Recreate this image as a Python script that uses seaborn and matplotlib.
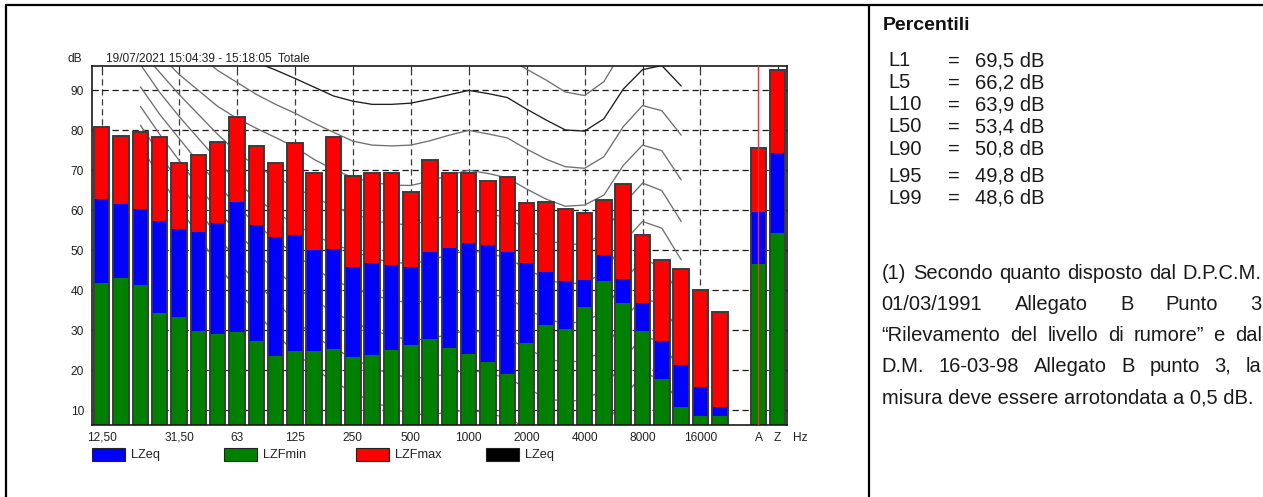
import numpy as np
import pandas as pd
import seaborn as sns
import matplotlib.pyplot as plt
from matplotlib.lines import Line2D
from matplotlib.patches import Rectangle

# %% dati spettro 1/3 ottava + A e Z
bands = ['12.5', '16', '20', '25', '31.5', '40', '50', '63', '80', '100', '125', '160',
         '200', '250', '315', '400', '500', '630', '800', '1000', '1250', '1600', '2000',
         '2500', '3150', '4000', '5000', '6300', '8000', '10000', '12500', '16000', '20000',
         'A', 'Z']

lzfmax = [80.8, 78.6, 79.5, 78.3, 71.8, 73.8, 77.1, 83.4, 76.2, 71.8, 76.8, 69.3,
          78.3, 68.6, 69.2, 69.2, 64.5, 72.5, 69.3, 69.3, 67.2, 68.4, 61.8,
          62.1, 60.2, 59.3, 62.6, 66.5, 53.8, 47.6, 45.3, 40.0, 34.5,
          75.6, 95.0]
lzeq = [62.7, 61.5, 60.3, 57.3, 55.3, 54.5, 56.8, 62.0, 56.2, 53.4, 53.8, 50.1,
        50.3, 45.9, 46.9, 46.3, 45.9, 49.6, 50.6, 51.8, 51.3, 49.6, 46.9,
        44.5, 42.3, 42.6, 48.8, 42.8, 36.8, 27.3, 21.3, 15.8, 10.8,
        59.6, 74.3]
lzfmin = [41.8, 43.1, 41.3, 34.3, 33.2, 29.8, 29.1, 29.5, 27.3, 23.4, 24.7, 24.7,
          25.2, 23.3, 23.8, 24.9, 26.2, 27.8, 25.6, 24.1, 22.0, 19.1, 26.7,
          31.4, 30.4, 35.7, 42.2, 36.8, 29.8, 17.7, 10.8, 8.4, 8.4,
          46.5, 54.4]

tick_bands = ['12.5', '31.5', '63', '125', '250', '500', '1000', '2000', '4000', '8000', '16000', 'A', 'Z']
tick_labels = ['12,50', '31,50', '63', '125', '250', '500', '1000', '2000', '4000', '8000', '16000', 'A', 'Z']
grid_bands = tick_bands[:-2]

# curve isofoniche (20 Hz - 12,5 kHz)
contour_bands = bands[2:31]
phon_100 = [122, 117.5, 113.5, 110, 107, 104.5, 102.5, 101, 99.8, 98.8, 98, 97.4, 97.0, 96.9, 97.2,
            97.9, 98.9, 100, 99.1, 98.2, 95.3, 92.6, 89.6, 88.7, 92.2, 100.2, 105, 106, 103]
phon_90 = [117, 113, 109, 105.5, 102.5, 99.7, 97, 95.1, 93, 90.8, 88.6, 87.3, 86.5, 86.5, 86.8,
           87.8, 88.9, 90, 89.2, 88.2, 85.3, 82.6, 80.1, 79.8, 82.9, 90.3, 95.2, 96.2, 91.1]
phon_80 = [112, 107.5, 103, 99, 95, 92, 89, 86.5, 84.3, 81.8, 79.5, 77.3, 76.3, 76.1, 76.3,
           77.4, 78.8, 80, 79.1, 78.1, 75.3, 72.8, 70.9, 70.5, 73.4, 80.9, 86.2, 84.9, 78.8]
phon_70 = [104, 99, 94, 90, 86, 83, 80.5, 78.2, 75.8, 72.7, 70.2, 68.2, 67, 66.3, 66.2,
           67.3, 68.8, 70, 69.2, 68.1, 65.3, 62.8, 61, 61.3, 63.8, 71.2, 76.3, 74.9, 67.6]
phon_60 = [100, 94.5, 89, 84, 79, 74.5, 71, 68.3, 65.8, 63.2, 61, 59.2, 57.5, 56.6, 56.4,
           57.4, 58.9, 60, 59.2, 58.1, 55.3, 52.8, 51.2, 51.8, 54, 61.5, 66.8, 64.9, 57.2]
phon_50 = [96.5, 89.5, 83.5, 78, 72.5, 67, 63, 59.5, 56.5, 53.8, 51.5, 49.8, 48, 47, 46.6,
           47.5, 48.9, 50, 49.2, 48.1, 45.3, 42.8, 41.4, 42, 44.2, 52, 57.2, 55.5, 47.6]
phon_40 = [90.9, 84, 78, 72, 66.5, 61, 56.5, 52.5, 49, 45.5, 42.5, 40.5, 38.8, 37.5, 36.8,
           37.5, 38.9, 40, 39.2, 38.1, 35.3, 32.8, 31.6, 32.2, 34.5, 42.3, 47.6, 46, 38]
phon_30 = [86, 79, 72.5, 66, 60, 54.5, 49.5, 45, 41, 37.5, 34.5, 32, 30, 28.5, 27.5,
           27.8, 29, 30, 29.2, 28, 25.4, 23, 21.8, 22.5, 24.8, 32.5, 38, 36.5, 28.5]
phon_20 = [81.3, 74, 67, 60, 53.5, 47.5, 42, 37, 32.5, 28.5, 25.5, 23, 20.5, 19, 18,
           18.2, 19.2, 20, 19.2, 18, 15.5, 13, 12, 12.7, 15, 22.5, 28.5, 27, 19.5]
phon_10 = [76, 68.5, 61, 53.5, 46.5, 40, 34.5, 29, 24.5, 20.5, 17, 14.5, 12, 10.5, 9,
           8.8, 9.5, 10, 9.2, 8, 5.5, 3, 2, 3, 5.5, 13, 19, 18, 11]

perc_names = ['L1', 'L5', 'L10', 'L50', 'L90', 'L95', 'L99']
perc_values = [69.5, 66.2, 63.9, 53.4, 50.8, 49.8, 48.6]

legend_names = ['LZeq', 'LZFmin', 'LZFmax', 'LZeq']
legend_colors = ['#0000ff', '#008000', '#ff0000', '#000000']

note_lines = ['(1) Secondo quanto disposto dal D.P.C.M.',
              '01/03/1991 Allegato B Punto 3',
              '\u201cRilevamento del livello di rumore\u201d e dal',
              'D.M. 16-03-98 Allegato B punto 3, la',
              'misura deve essere arrotondata a 0,5 dB.']

# %% layout
sns.set_style('white')
plt.rcParams['font.family'] = ['Liberation Sans', 'DejaVu Sans']

W, H = 1263, 497
fx = lambda px: px / W
fy = lambda py: 1 - py / H

fig = plt.figure(figsize=(W / 100, H / 100), dpi=100)
ax = fig.add_axes([fx(92.3), fy(425), (787 - 92.3) / W, (425 - 66) / H])

order = bands[:33] + [' '] + bands[33:]
pos = {b: i for i, b in enumerate(order)}

# griglia tratteggiata
for b in grid_bands:
    ax.axvline(pos[b], color='#3a3a3a', lw=0.9, ls=(0, (5, 3)), zorder=0.5)
for v in range(10, 100, 10):
    ax.axhline(v, color='#1a1a1a', lw=0.9, ls=(0, (5, 3)), zorder=0.5)

# barre
common = dict(order=order, width=0.8, errorbar=None, saturation=1, ax=ax)
sns.barplot(x=bands, y=lzfmax, color='#ff0000', edgecolor='#3c3c3c', linewidth=1.2, **common)
sns.barplot(x=bands, y=lzeq, color='#0000ff', linewidth=0, **common)
sns.barplot(x=bands, y=lzfmin, color='#008000', linewidth=0, **common)
sns.barplot(x=bands, y=lzfmax, fill=False, color='#3c3c3c', linewidth=1.2, **common)

# isofoniche dietro le barre
cx = np.array([pos[b] for b in contour_bands], dtype=float)
curves = [phon_10, phon_20, phon_30, phon_40, phon_50, phon_60, phon_70, phon_80, phon_90, phon_100]
for c in curves:
    col = '#1e1e1e' if c is phon_90 else '#707070'
    sns.lineplot(x=cx, y=np.array(c, dtype=float), color=col, linewidth=0.95, ax=ax, zorder=0.8)

ax.axvline(pos['A'], color='#ff2a2a', lw=1.0, zorder=5)

ax.set_xlim(-0.49, 35.48)
ax.set_ylim(6.25, 96.1)
ax.set_xticks([pos[b] for b in tick_bands])
ax.set_xticklabels(tick_labels)
ax.set_yticks(range(10, 100, 10))
ax.set_xlabel('')
ax.set_ylabel('')
ax.tick_params(direction='in', length=3, width=0.8, labelsize=8.6, labelcolor='#222222',
               top=True, right=True, pad=5)
ax.tick_params(axis='y', pad=6)
for s in ax.spines.values():
    s.set_visible(True)
    s.set_linewidth(1.2)
    s.set_color('#1a1a1a')

fig.text(fx(75), fy(59), 'dB', ha='center', va='center', fontsize=8.6, color='#222222')
fig.text(fx(105.7), fy(59), '19/07/2021 15:04:39 - 15:18:05  Totale', ha='left', va='center',
         fontsize=8.6, color='#222222')
fig.text(fx(800), fy(438), 'Hz', ha='center', va='center', fontsize=8.6, color='#222222')

# legenda
for name, col, x0 in zip(legend_names, legend_colors, [92.3, 224, 355.7, 486]):
    fig.add_artist(Rectangle((fx(x0), fy(461)), 33 / W, 13 / H, transform=fig.transFigure,
                             facecolor=col, edgecolor='#222222', lw=0.8))
    fig.text(fx(x0 + 39), fy(455), name, ha='left', va='center', fontsize=9.2, color='#222222')

# cornice della tabella
frame = dict(color='black', lw=1.6, transform=fig.transFigure)
fig.add_artist(Line2D([fx(6), fx(6)], [0, fy(5)], **frame))
fig.add_artist(Line2D([fx(6), 1], [fy(5), fy(5)], **frame))
fig.add_artist(Line2D([fx(868.7), fx(868.7)], [0, fy(5)], **frame))

# pannello destro
fig.text(fx(883), fy(26), 'Percentili', fontweight='bold', fontsize=14, ha='left', va='center',
         color='#111111')
row_y = [59.5, 81.5, 103.5, 125.5, 148, 174.5, 197]
for name, val, y in zip(perc_names, perc_values, row_y):
    txt = f'{val:.1f}'.replace('.', ',') + ' dB'
    fig.text(fx(888), fy(y + 7), name, ha='left', va='baseline', fontsize=14.5, color='#1a1a1a')
    fig.text(fx(953.5), fy(y + 7), '=', ha='center', va='baseline', fontsize=14.5, color='#1a1a1a')
    fig.text(fx(975), fy(y + 7), txt, ha='left', va='baseline', fontsize=14.5, color='#1a1a1a')

# nota giustificata
renderer = fig.canvas.get_renderer()
note_y = [271.7, 303.3, 334.3, 365, 396]
x_left, x_right = 881.7, 1261.7
for i, (line, y) in enumerate(zip(note_lines, note_y)):
    if i == len(note_lines) - 1:
        fig.text(fx(x_left), fy(y + 7), line, ha='left', va='baseline', fontsize=14.5,
                 color='#1a1a1a')
        continue
    words = line.split(' ')
    texts = [fig.text(0, fy(y + 7), w, ha='left', va='baseline', fontsize=14.5, color='#1a1a1a')
             for w in words]
    widths = [t.get_window_extent(renderer).width for t in texts]
    gap = (x_right - x_left - sum(widths)) / (len(words) - 1)
    x = x_left
    for t, w in zip(texts, widths):
        t.set_x(fx(x))
        x += w + gap

fig.savefig('out.png', dpi=100)
